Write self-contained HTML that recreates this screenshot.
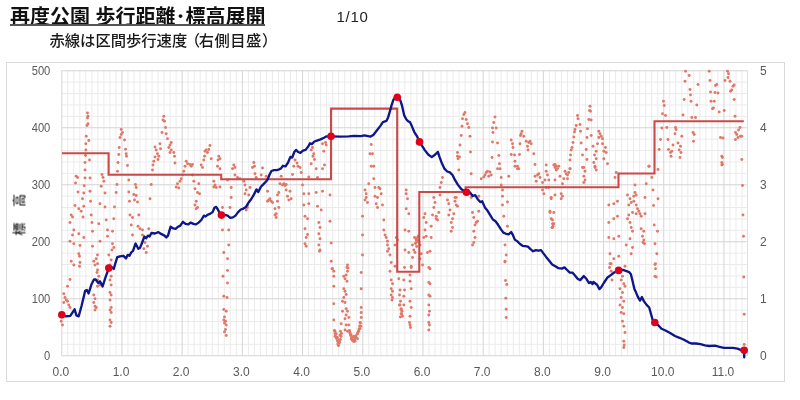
<!DOCTYPE html>
<html><head><meta charset="utf-8"><style>
html,body{margin:0;padding:0;background:#fff;}
body{width:800px;height:400px;overflow:hidden;position:relative;font-family:"Liberation Sans","Noto Sans CJK JP",sans-serif;}
.t{position:absolute;left:10px;top:6.5px;line-height:20px;font-size:20px;font-weight:bold;color:#111;white-space:nowrap;letter-spacing:0px;}
.u{position:absolute;left:9.5px;top:24.4px;width:255px;height:1.3px;background:#555;}
.p{position:absolute;left:336.5px;top:8px;font-size:15px;letter-spacing:0.7px;color:#222;}
.s{position:absolute;left:49.5px;top:27.6px;font-size:15.3px;font-weight:500;color:#1a1a1a;white-space:nowrap;}
.frame{position:absolute;left:6px;top:62px;width:779px;height:320px;border:1px solid #d9d9d9;box-sizing:border-box;}
.yt{position:absolute;left:17.5px;top:213.5px;font-size:13px;letter-spacing:1.4px;font-weight:500;color:#222;transform:translate(-50%,-50%) rotate(-90deg);white-space:nowrap;}
svg{position:absolute;left:0;top:0;filter:blur(0.35px);}
.t,.s,.p,.yt,.u{filter:blur(0.3px);}
</style></head><body>
<div class="frame"></div>
<svg width="800" height="400" viewBox="0 0 800 400"><g><line x1="67.77" y1="70.75" x2="67.77" y2="355.75" stroke="#ebebeb" stroke-width="1"/><line x1="73.79" y1="70.75" x2="73.79" y2="355.75" stroke="#ebebeb" stroke-width="1"/><line x1="79.81" y1="70.75" x2="79.81" y2="355.75" stroke="#ebebeb" stroke-width="1"/><line x1="85.83" y1="70.75" x2="85.83" y2="355.75" stroke="#ebebeb" stroke-width="1"/><line x1="91.85" y1="70.75" x2="91.85" y2="355.75" stroke="#ebebeb" stroke-width="1"/><line x1="97.87" y1="70.75" x2="97.87" y2="355.75" stroke="#ebebeb" stroke-width="1"/><line x1="103.89" y1="70.75" x2="103.89" y2="355.75" stroke="#ebebeb" stroke-width="1"/><line x1="109.91" y1="70.75" x2="109.91" y2="355.75" stroke="#ebebeb" stroke-width="1"/><line x1="115.93" y1="70.75" x2="115.93" y2="355.75" stroke="#ebebeb" stroke-width="1"/><line x1="127.97" y1="70.75" x2="127.97" y2="355.75" stroke="#ebebeb" stroke-width="1"/><line x1="133.99" y1="70.75" x2="133.99" y2="355.75" stroke="#ebebeb" stroke-width="1"/><line x1="140.01" y1="70.75" x2="140.01" y2="355.75" stroke="#ebebeb" stroke-width="1"/><line x1="146.03" y1="70.75" x2="146.03" y2="355.75" stroke="#ebebeb" stroke-width="1"/><line x1="152.05" y1="70.75" x2="152.05" y2="355.75" stroke="#ebebeb" stroke-width="1"/><line x1="158.07" y1="70.75" x2="158.07" y2="355.75" stroke="#ebebeb" stroke-width="1"/><line x1="164.09" y1="70.75" x2="164.09" y2="355.75" stroke="#ebebeb" stroke-width="1"/><line x1="170.11" y1="70.75" x2="170.11" y2="355.75" stroke="#ebebeb" stroke-width="1"/><line x1="176.13" y1="70.75" x2="176.13" y2="355.75" stroke="#ebebeb" stroke-width="1"/><line x1="188.17" y1="70.75" x2="188.17" y2="355.75" stroke="#ebebeb" stroke-width="1"/><line x1="194.19" y1="70.75" x2="194.19" y2="355.75" stroke="#ebebeb" stroke-width="1"/><line x1="200.21" y1="70.75" x2="200.21" y2="355.75" stroke="#ebebeb" stroke-width="1"/><line x1="206.23" y1="70.75" x2="206.23" y2="355.75" stroke="#ebebeb" stroke-width="1"/><line x1="212.25" y1="70.75" x2="212.25" y2="355.75" stroke="#ebebeb" stroke-width="1"/><line x1="218.27" y1="70.75" x2="218.27" y2="355.75" stroke="#ebebeb" stroke-width="1"/><line x1="224.29" y1="70.75" x2="224.29" y2="355.75" stroke="#ebebeb" stroke-width="1"/><line x1="230.31" y1="70.75" x2="230.31" y2="355.75" stroke="#ebebeb" stroke-width="1"/><line x1="236.33" y1="70.75" x2="236.33" y2="355.75" stroke="#ebebeb" stroke-width="1"/><line x1="248.37" y1="70.75" x2="248.37" y2="355.75" stroke="#ebebeb" stroke-width="1"/><line x1="254.39" y1="70.75" x2="254.39" y2="355.75" stroke="#ebebeb" stroke-width="1"/><line x1="260.41" y1="70.75" x2="260.41" y2="355.75" stroke="#ebebeb" stroke-width="1"/><line x1="266.43" y1="70.75" x2="266.43" y2="355.75" stroke="#ebebeb" stroke-width="1"/><line x1="272.45" y1="70.75" x2="272.45" y2="355.75" stroke="#ebebeb" stroke-width="1"/><line x1="278.47" y1="70.75" x2="278.47" y2="355.75" stroke="#ebebeb" stroke-width="1"/><line x1="284.49" y1="70.75" x2="284.49" y2="355.75" stroke="#ebebeb" stroke-width="1"/><line x1="290.51" y1="70.75" x2="290.51" y2="355.75" stroke="#ebebeb" stroke-width="1"/><line x1="296.53" y1="70.75" x2="296.53" y2="355.75" stroke="#ebebeb" stroke-width="1"/><line x1="308.57" y1="70.75" x2="308.57" y2="355.75" stroke="#ebebeb" stroke-width="1"/><line x1="314.59" y1="70.75" x2="314.59" y2="355.75" stroke="#ebebeb" stroke-width="1"/><line x1="320.61" y1="70.75" x2="320.61" y2="355.75" stroke="#ebebeb" stroke-width="1"/><line x1="326.63" y1="70.75" x2="326.63" y2="355.75" stroke="#ebebeb" stroke-width="1"/><line x1="332.65" y1="70.75" x2="332.65" y2="355.75" stroke="#ebebeb" stroke-width="1"/><line x1="338.67" y1="70.75" x2="338.67" y2="355.75" stroke="#ebebeb" stroke-width="1"/><line x1="344.69" y1="70.75" x2="344.69" y2="355.75" stroke="#ebebeb" stroke-width="1"/><line x1="350.71" y1="70.75" x2="350.71" y2="355.75" stroke="#ebebeb" stroke-width="1"/><line x1="356.73" y1="70.75" x2="356.73" y2="355.75" stroke="#ebebeb" stroke-width="1"/><line x1="368.77" y1="70.75" x2="368.77" y2="355.75" stroke="#ebebeb" stroke-width="1"/><line x1="374.79" y1="70.75" x2="374.79" y2="355.75" stroke="#ebebeb" stroke-width="1"/><line x1="380.81" y1="70.75" x2="380.81" y2="355.75" stroke="#ebebeb" stroke-width="1"/><line x1="386.83" y1="70.75" x2="386.83" y2="355.75" stroke="#ebebeb" stroke-width="1"/><line x1="392.85" y1="70.75" x2="392.85" y2="355.75" stroke="#ebebeb" stroke-width="1"/><line x1="398.87" y1="70.75" x2="398.87" y2="355.75" stroke="#ebebeb" stroke-width="1"/><line x1="404.89" y1="70.75" x2="404.89" y2="355.75" stroke="#ebebeb" stroke-width="1"/><line x1="410.91" y1="70.75" x2="410.91" y2="355.75" stroke="#ebebeb" stroke-width="1"/><line x1="416.93" y1="70.75" x2="416.93" y2="355.75" stroke="#ebebeb" stroke-width="1"/><line x1="428.97" y1="70.75" x2="428.97" y2="355.75" stroke="#ebebeb" stroke-width="1"/><line x1="434.99" y1="70.75" x2="434.99" y2="355.75" stroke="#ebebeb" stroke-width="1"/><line x1="441.01" y1="70.75" x2="441.01" y2="355.75" stroke="#ebebeb" stroke-width="1"/><line x1="447.03" y1="70.75" x2="447.03" y2="355.75" stroke="#ebebeb" stroke-width="1"/><line x1="453.05" y1="70.75" x2="453.05" y2="355.75" stroke="#ebebeb" stroke-width="1"/><line x1="459.07" y1="70.75" x2="459.07" y2="355.75" stroke="#ebebeb" stroke-width="1"/><line x1="465.09" y1="70.75" x2="465.09" y2="355.75" stroke="#ebebeb" stroke-width="1"/><line x1="471.11" y1="70.75" x2="471.11" y2="355.75" stroke="#ebebeb" stroke-width="1"/><line x1="477.13" y1="70.75" x2="477.13" y2="355.75" stroke="#ebebeb" stroke-width="1"/><line x1="489.17" y1="70.75" x2="489.17" y2="355.75" stroke="#ebebeb" stroke-width="1"/><line x1="495.19" y1="70.75" x2="495.19" y2="355.75" stroke="#ebebeb" stroke-width="1"/><line x1="501.21" y1="70.75" x2="501.21" y2="355.75" stroke="#ebebeb" stroke-width="1"/><line x1="507.23" y1="70.75" x2="507.23" y2="355.75" stroke="#ebebeb" stroke-width="1"/><line x1="513.25" y1="70.75" x2="513.25" y2="355.75" stroke="#ebebeb" stroke-width="1"/><line x1="519.27" y1="70.75" x2="519.27" y2="355.75" stroke="#ebebeb" stroke-width="1"/><line x1="525.29" y1="70.75" x2="525.29" y2="355.75" stroke="#ebebeb" stroke-width="1"/><line x1="531.31" y1="70.75" x2="531.31" y2="355.75" stroke="#ebebeb" stroke-width="1"/><line x1="537.33" y1="70.75" x2="537.33" y2="355.75" stroke="#ebebeb" stroke-width="1"/><line x1="549.37" y1="70.75" x2="549.37" y2="355.75" stroke="#ebebeb" stroke-width="1"/><line x1="555.39" y1="70.75" x2="555.39" y2="355.75" stroke="#ebebeb" stroke-width="1"/><line x1="561.41" y1="70.75" x2="561.41" y2="355.75" stroke="#ebebeb" stroke-width="1"/><line x1="567.43" y1="70.75" x2="567.43" y2="355.75" stroke="#ebebeb" stroke-width="1"/><line x1="573.45" y1="70.75" x2="573.45" y2="355.75" stroke="#ebebeb" stroke-width="1"/><line x1="579.47" y1="70.75" x2="579.47" y2="355.75" stroke="#ebebeb" stroke-width="1"/><line x1="585.49" y1="70.75" x2="585.49" y2="355.75" stroke="#ebebeb" stroke-width="1"/><line x1="591.51" y1="70.75" x2="591.51" y2="355.75" stroke="#ebebeb" stroke-width="1"/><line x1="597.53" y1="70.75" x2="597.53" y2="355.75" stroke="#ebebeb" stroke-width="1"/><line x1="609.57" y1="70.75" x2="609.57" y2="355.75" stroke="#ebebeb" stroke-width="1"/><line x1="615.59" y1="70.75" x2="615.59" y2="355.75" stroke="#ebebeb" stroke-width="1"/><line x1="621.61" y1="70.75" x2="621.61" y2="355.75" stroke="#ebebeb" stroke-width="1"/><line x1="627.63" y1="70.75" x2="627.63" y2="355.75" stroke="#ebebeb" stroke-width="1"/><line x1="633.65" y1="70.75" x2="633.65" y2="355.75" stroke="#ebebeb" stroke-width="1"/><line x1="639.67" y1="70.75" x2="639.67" y2="355.75" stroke="#ebebeb" stroke-width="1"/><line x1="645.69" y1="70.75" x2="645.69" y2="355.75" stroke="#ebebeb" stroke-width="1"/><line x1="651.71" y1="70.75" x2="651.71" y2="355.75" stroke="#ebebeb" stroke-width="1"/><line x1="657.73" y1="70.75" x2="657.73" y2="355.75" stroke="#ebebeb" stroke-width="1"/><line x1="669.77" y1="70.75" x2="669.77" y2="355.75" stroke="#ebebeb" stroke-width="1"/><line x1="675.79" y1="70.75" x2="675.79" y2="355.75" stroke="#ebebeb" stroke-width="1"/><line x1="681.81" y1="70.75" x2="681.81" y2="355.75" stroke="#ebebeb" stroke-width="1"/><line x1="687.83" y1="70.75" x2="687.83" y2="355.75" stroke="#ebebeb" stroke-width="1"/><line x1="693.85" y1="70.75" x2="693.85" y2="355.75" stroke="#ebebeb" stroke-width="1"/><line x1="699.87" y1="70.75" x2="699.87" y2="355.75" stroke="#ebebeb" stroke-width="1"/><line x1="705.89" y1="70.75" x2="705.89" y2="355.75" stroke="#ebebeb" stroke-width="1"/><line x1="711.91" y1="70.75" x2="711.91" y2="355.75" stroke="#ebebeb" stroke-width="1"/><line x1="717.93" y1="70.75" x2="717.93" y2="355.75" stroke="#ebebeb" stroke-width="1"/><line x1="729.97" y1="70.75" x2="729.97" y2="355.75" stroke="#ebebeb" stroke-width="1"/><line x1="735.99" y1="70.75" x2="735.99" y2="355.75" stroke="#ebebeb" stroke-width="1"/><line x1="742.01" y1="70.75" x2="742.01" y2="355.75" stroke="#ebebeb" stroke-width="1"/><line x1="61.75" y1="344.35" x2="747.5" y2="344.35" stroke="#ebebeb" stroke-width="1"/><line x1="61.75" y1="332.95" x2="747.5" y2="332.95" stroke="#ebebeb" stroke-width="1"/><line x1="61.75" y1="321.55" x2="747.5" y2="321.55" stroke="#ebebeb" stroke-width="1"/><line x1="61.75" y1="310.15" x2="747.5" y2="310.15" stroke="#ebebeb" stroke-width="1"/><line x1="61.75" y1="287.35" x2="747.5" y2="287.35" stroke="#ebebeb" stroke-width="1"/><line x1="61.75" y1="275.95" x2="747.5" y2="275.95" stroke="#ebebeb" stroke-width="1"/><line x1="61.75" y1="264.55" x2="747.5" y2="264.55" stroke="#ebebeb" stroke-width="1"/><line x1="61.75" y1="253.15" x2="747.5" y2="253.15" stroke="#ebebeb" stroke-width="1"/><line x1="61.75" y1="230.35" x2="747.5" y2="230.35" stroke="#ebebeb" stroke-width="1"/><line x1="61.75" y1="218.95" x2="747.5" y2="218.95" stroke="#ebebeb" stroke-width="1"/><line x1="61.75" y1="207.55" x2="747.5" y2="207.55" stroke="#ebebeb" stroke-width="1"/><line x1="61.75" y1="196.15" x2="747.5" y2="196.15" stroke="#ebebeb" stroke-width="1"/><line x1="61.75" y1="173.35" x2="747.5" y2="173.35" stroke="#ebebeb" stroke-width="1"/><line x1="61.75" y1="161.95" x2="747.5" y2="161.95" stroke="#ebebeb" stroke-width="1"/><line x1="61.75" y1="150.55" x2="747.5" y2="150.55" stroke="#ebebeb" stroke-width="1"/><line x1="61.75" y1="139.15" x2="747.5" y2="139.15" stroke="#ebebeb" stroke-width="1"/><line x1="61.75" y1="116.35" x2="747.5" y2="116.35" stroke="#ebebeb" stroke-width="1"/><line x1="61.75" y1="104.95" x2="747.5" y2="104.95" stroke="#ebebeb" stroke-width="1"/><line x1="61.75" y1="93.55" x2="747.5" y2="93.55" stroke="#ebebeb" stroke-width="1"/><line x1="61.75" y1="82.15" x2="747.5" y2="82.15" stroke="#ebebeb" stroke-width="1"/><line x1="61.75" y1="70.75" x2="61.75" y2="355.75" stroke="#d4d4d4" stroke-width="1"/><line x1="121.95" y1="70.75" x2="121.95" y2="355.75" stroke="#d4d4d4" stroke-width="1"/><line x1="182.15" y1="70.75" x2="182.15" y2="355.75" stroke="#d4d4d4" stroke-width="1"/><line x1="242.35" y1="70.75" x2="242.35" y2="355.75" stroke="#d4d4d4" stroke-width="1"/><line x1="302.55" y1="70.75" x2="302.55" y2="355.75" stroke="#d4d4d4" stroke-width="1"/><line x1="362.75" y1="70.75" x2="362.75" y2="355.75" stroke="#d4d4d4" stroke-width="1"/><line x1="422.95" y1="70.75" x2="422.95" y2="355.75" stroke="#d4d4d4" stroke-width="1"/><line x1="483.15" y1="70.75" x2="483.15" y2="355.75" stroke="#d4d4d4" stroke-width="1"/><line x1="543.35" y1="70.75" x2="543.35" y2="355.75" stroke="#d4d4d4" stroke-width="1"/><line x1="603.55" y1="70.75" x2="603.55" y2="355.75" stroke="#d4d4d4" stroke-width="1"/><line x1="663.75" y1="70.75" x2="663.75" y2="355.75" stroke="#d4d4d4" stroke-width="1"/><line x1="723.95" y1="70.75" x2="723.95" y2="355.75" stroke="#d4d4d4" stroke-width="1"/><line x1="61.75" y1="355.75" x2="747.5" y2="355.75" stroke="#d4d4d4" stroke-width="1"/><line x1="61.75" y1="298.75" x2="747.5" y2="298.75" stroke="#d4d4d4" stroke-width="1"/><line x1="61.75" y1="241.75" x2="747.5" y2="241.75" stroke="#d4d4d4" stroke-width="1"/><line x1="61.75" y1="184.75" x2="747.5" y2="184.75" stroke="#d4d4d4" stroke-width="1"/><line x1="61.75" y1="127.75" x2="747.5" y2="127.75" stroke="#d4d4d4" stroke-width="1"/><line x1="61.75" y1="70.75" x2="747.5" y2="70.75" stroke="#d4d4d4" stroke-width="1"/><line x1="747.50" y1="70.75" x2="747.50" y2="355.75" stroke="#e0e0e0" stroke-width="1"/></g><g fill="#e07868"><circle cx="87.5" cy="113.0" r="1.45"/><circle cx="88.0" cy="116.2" r="1.45"/><circle cx="87.5" cy="118.0" r="1.45"/><circle cx="88.0" cy="123.8" r="1.45"/><circle cx="87.0" cy="125.5" r="1.45"/><circle cx="86.2" cy="136.2" r="1.45"/><circle cx="88.8" cy="140.5" r="1.45"/><circle cx="85.8" cy="143.8" r="1.45"/><circle cx="85.8" cy="150.0" r="1.45"/><circle cx="85.5" cy="155.5" r="1.45"/><circle cx="89.5" cy="160.0" r="1.45"/><circle cx="85.0" cy="162.5" r="1.45"/><circle cx="85.0" cy="170.0" r="1.45"/><circle cx="85.0" cy="178.0" r="1.45"/><circle cx="90.0" cy="178.0" r="1.45"/><circle cx="84.2" cy="185.8" r="1.45"/><circle cx="76.2" cy="176.2" r="1.45"/><circle cx="77.5" cy="177.5" r="1.45"/><circle cx="75.5" cy="183.0" r="1.45"/><circle cx="102.0" cy="174.5" r="1.45"/><circle cx="103.0" cy="177.5" r="1.45"/><circle cx="103.8" cy="181.2" r="1.45"/><circle cx="101.2" cy="186.2" r="1.45"/><circle cx="121.2" cy="129.5" r="1.45"/><circle cx="122.5" cy="132.5" r="1.45"/><circle cx="121.2" cy="134.5" r="1.45"/><circle cx="120.0" cy="137.5" r="1.45"/><circle cx="124.5" cy="140.0" r="1.45"/><circle cx="119.2" cy="147.5" r="1.45"/><circle cx="125.5" cy="149.2" r="1.45"/><circle cx="126.2" cy="153.8" r="1.45"/><circle cx="126.5" cy="156.2" r="1.45"/><circle cx="118.8" cy="154.5" r="1.45"/><circle cx="118.0" cy="162.5" r="1.45"/><circle cx="127.5" cy="165.5" r="1.45"/><circle cx="117.5" cy="171.2" r="1.45"/><circle cx="128.8" cy="180.0" r="1.45"/><circle cx="117.0" cy="184.5" r="1.45"/><circle cx="135.5" cy="184.5" r="1.45"/><circle cx="136.2" cy="187.5" r="1.45"/><circle cx="155.0" cy="147.0" r="1.45"/><circle cx="156.2" cy="150.0" r="1.45"/><circle cx="157.5" cy="153.8" r="1.45"/><circle cx="155.0" cy="157.0" r="1.45"/><circle cx="153.8" cy="161.2" r="1.45"/><circle cx="153.0" cy="165.0" r="1.45"/><circle cx="152.5" cy="170.0" r="1.45"/><circle cx="151.2" cy="184.5" r="1.45"/><circle cx="158.8" cy="156.2" r="1.45"/><circle cx="158.0" cy="159.5" r="1.45"/><circle cx="78.0" cy="192.0" r="1.45"/><circle cx="83.8" cy="193.0" r="1.45"/><circle cx="90.0" cy="191.2" r="1.45"/><circle cx="105.0" cy="193.0" r="1.45"/><circle cx="116.2" cy="192.5" r="1.45"/><circle cx="128.8" cy="192.0" r="1.45"/><circle cx="133.8" cy="194.5" r="1.45"/><circle cx="136.2" cy="195.5" r="1.45"/><circle cx="82.5" cy="198.8" r="1.45"/><circle cx="90.5" cy="201.2" r="1.45"/><circle cx="75.0" cy="205.5" r="1.45"/><circle cx="78.8" cy="208.8" r="1.45"/><circle cx="83.8" cy="206.2" r="1.45"/><circle cx="100.0" cy="203.8" r="1.45"/><circle cx="105.0" cy="207.0" r="1.45"/><circle cx="114.5" cy="207.0" r="1.45"/><circle cx="129.5" cy="201.2" r="1.45"/><circle cx="134.5" cy="200.0" r="1.45"/><circle cx="137.5" cy="202.0" r="1.45"/><circle cx="150.0" cy="198.8" r="1.45"/><circle cx="71.2" cy="215.0" r="1.45"/><circle cx="72.5" cy="217.0" r="1.45"/><circle cx="70.0" cy="222.5" r="1.45"/><circle cx="81.2" cy="211.2" r="1.45"/><circle cx="83.0" cy="217.0" r="1.45"/><circle cx="91.2" cy="215.0" r="1.45"/><circle cx="92.0" cy="222.5" r="1.45"/><circle cx="98.8" cy="223.8" r="1.45"/><circle cx="106.2" cy="220.0" r="1.45"/><circle cx="113.8" cy="218.8" r="1.45"/><circle cx="130.0" cy="215.0" r="1.45"/><circle cx="132.5" cy="217.5" r="1.45"/><circle cx="138.8" cy="215.0" r="1.45"/><circle cx="131.2" cy="225.0" r="1.45"/><circle cx="138.0" cy="226.2" r="1.45"/><circle cx="140.0" cy="228.8" r="1.45"/><circle cx="142.5" cy="230.0" r="1.45"/><circle cx="148.8" cy="228.8" r="1.45"/><circle cx="73.8" cy="230.0" r="1.45"/><circle cx="72.5" cy="235.0" r="1.45"/><circle cx="78.8" cy="233.8" r="1.45"/><circle cx="83.8" cy="237.5" r="1.45"/><circle cx="92.5" cy="231.2" r="1.45"/><circle cx="107.5" cy="230.0" r="1.45"/><circle cx="107.5" cy="236.2" r="1.45"/><circle cx="112.5" cy="231.2" r="1.45"/><circle cx="132.5" cy="235.0" r="1.45"/><circle cx="142.5" cy="235.0" r="1.45"/><circle cx="70.0" cy="241.2" r="1.45"/><circle cx="73.8" cy="243.8" r="1.45"/><circle cx="80.0" cy="245.5" r="1.45"/><circle cx="92.5" cy="246.2" r="1.45"/><circle cx="100.0" cy="241.2" r="1.45"/><circle cx="112.5" cy="243.8" r="1.45"/><circle cx="113.8" cy="247.5" r="1.45"/><circle cx="112.0" cy="250.0" r="1.45"/><circle cx="108.8" cy="255.0" r="1.45"/><circle cx="145.0" cy="242.5" r="1.45"/><circle cx="147.5" cy="246.2" r="1.45"/><circle cx="143.8" cy="248.8" r="1.45"/><circle cx="146.2" cy="252.5" r="1.45"/><circle cx="78.8" cy="253.8" r="1.45"/><circle cx="79.5" cy="256.2" r="1.45"/><circle cx="71.2" cy="261.2" r="1.45"/><circle cx="73.8" cy="265.0" r="1.45"/><circle cx="80.0" cy="262.5" r="1.45"/><circle cx="79.5" cy="266.2" r="1.45"/><circle cx="97.5" cy="255.0" r="1.45"/><circle cx="96.2" cy="258.8" r="1.45"/><circle cx="93.8" cy="261.2" r="1.45"/><circle cx="97.5" cy="263.8" r="1.45"/><circle cx="95.0" cy="265.0" r="1.45"/><circle cx="111.2" cy="260.0" r="1.45"/><circle cx="110.0" cy="265.0" r="1.45"/><circle cx="70.0" cy="279.5" r="1.45"/><circle cx="67.5" cy="286.2" r="1.45"/><circle cx="97.5" cy="270.0" r="1.45"/><circle cx="97.0" cy="272.5" r="1.45"/><circle cx="98.8" cy="276.2" r="1.45"/><circle cx="97.5" cy="280.0" r="1.45"/><circle cx="111.2" cy="276.2" r="1.45"/><circle cx="110.0" cy="280.0" r="1.45"/><circle cx="111.2" cy="285.0" r="1.45"/><circle cx="97.5" cy="286.2" r="1.45"/><circle cx="100.0" cy="285.0" r="1.45"/><circle cx="63.8" cy="293.8" r="1.45"/><circle cx="65.0" cy="297.5" r="1.45"/><circle cx="66.2" cy="300.0" r="1.45"/><circle cx="67.5" cy="301.2" r="1.45"/><circle cx="63.8" cy="302.5" r="1.45"/><circle cx="68.8" cy="305.0" r="1.45"/><circle cx="70.0" cy="307.5" r="1.45"/><circle cx="62.5" cy="325.0" r="1.45"/><circle cx="61.2" cy="321.2" r="1.45"/><circle cx="93.8" cy="295.0" r="1.45"/><circle cx="95.0" cy="298.8" r="1.45"/><circle cx="93.8" cy="302.5" r="1.45"/><circle cx="95.0" cy="306.2" r="1.45"/><circle cx="95.0" cy="310.0" r="1.45"/><circle cx="96.2" cy="307.5" r="1.45"/><circle cx="110.0" cy="292.5" r="1.45"/><circle cx="111.2" cy="295.0" r="1.45"/><circle cx="110.0" cy="300.0" r="1.45"/><circle cx="111.2" cy="307.5" r="1.45"/><circle cx="110.0" cy="310.0" r="1.45"/><circle cx="111.2" cy="312.5" r="1.45"/><circle cx="110.0" cy="320.0" r="1.45"/><circle cx="111.2" cy="322.5" r="1.45"/><circle cx="110.0" cy="326.2" r="1.45"/><circle cx="163.8" cy="116.2" r="1.45"/><circle cx="163.0" cy="120.0" r="1.45"/><circle cx="164.5" cy="121.2" r="1.45"/><circle cx="165.5" cy="127.5" r="1.45"/><circle cx="162.0" cy="132.5" r="1.45"/><circle cx="166.2" cy="133.8" r="1.45"/><circle cx="167.5" cy="138.8" r="1.45"/><circle cx="171.2" cy="142.5" r="1.45"/><circle cx="170.0" cy="145.0" r="1.45"/><circle cx="168.8" cy="147.5" r="1.45"/><circle cx="171.2" cy="150.0" r="1.45"/><circle cx="170.0" cy="152.5" r="1.45"/><circle cx="173.8" cy="152.5" r="1.45"/><circle cx="174.5" cy="156.2" r="1.45"/><circle cx="175.0" cy="163.0" r="1.45"/><circle cx="160.0" cy="143.8" r="1.45"/><circle cx="160.5" cy="148.8" r="1.45"/><circle cx="186.2" cy="161.2" r="1.45"/><circle cx="187.5" cy="163.8" r="1.45"/><circle cx="190.0" cy="164.5" r="1.45"/><circle cx="191.2" cy="166.2" r="1.45"/><circle cx="185.0" cy="166.2" r="1.45"/><circle cx="192.5" cy="164.5" r="1.45"/><circle cx="205.0" cy="151.2" r="1.45"/><circle cx="206.2" cy="150.0" r="1.45"/><circle cx="208.8" cy="149.5" r="1.45"/><circle cx="210.0" cy="145.5" r="1.45"/><circle cx="207.5" cy="152.5" r="1.45"/><circle cx="211.2" cy="158.8" r="1.45"/><circle cx="204.5" cy="156.2" r="1.45"/><circle cx="203.8" cy="160.0" r="1.45"/><circle cx="201.2" cy="165.0" r="1.45"/><circle cx="202.5" cy="167.5" r="1.45"/><circle cx="218.8" cy="156.2" r="1.45"/><circle cx="218.0" cy="160.0" r="1.45"/><circle cx="220.0" cy="158.8" r="1.45"/><circle cx="217.5" cy="166.2" r="1.45"/><circle cx="220.0" cy="168.8" r="1.45"/><circle cx="233.8" cy="165.0" r="1.45"/><circle cx="235.0" cy="167.5" r="1.45"/><circle cx="232.5" cy="168.8" r="1.45"/><circle cx="253.8" cy="162.5" r="1.45"/><circle cx="254.5" cy="166.2" r="1.45"/><circle cx="252.5" cy="167.5" r="1.45"/><circle cx="183.8" cy="171.2" r="1.45"/><circle cx="182.5" cy="175.0" r="1.45"/><circle cx="181.2" cy="178.8" r="1.45"/><circle cx="180.0" cy="181.2" r="1.45"/><circle cx="177.5" cy="183.8" r="1.45"/><circle cx="176.2" cy="187.0" r="1.45"/><circle cx="178.8" cy="188.0" r="1.45"/><circle cx="193.8" cy="181.2" r="1.45"/><circle cx="195.0" cy="188.8" r="1.45"/><circle cx="198.8" cy="183.8" r="1.45"/><circle cx="197.5" cy="192.5" r="1.45"/><circle cx="199.5" cy="193.8" r="1.45"/><circle cx="196.2" cy="201.2" r="1.45"/><circle cx="195.0" cy="205.0" r="1.45"/><circle cx="197.5" cy="207.5" r="1.45"/><circle cx="196.2" cy="208.8" r="1.45"/><circle cx="213.8" cy="181.2" r="1.45"/><circle cx="215.0" cy="185.0" r="1.45"/><circle cx="213.8" cy="187.0" r="1.45"/><circle cx="216.2" cy="187.5" r="1.45"/><circle cx="220.0" cy="187.0" r="1.45"/><circle cx="222.5" cy="207.5" r="1.45"/><circle cx="222.5" cy="230.0" r="1.45"/><circle cx="228.8" cy="230.0" r="1.45"/><circle cx="230.0" cy="207.5" r="1.45"/><circle cx="231.2" cy="197.5" r="1.45"/><circle cx="231.2" cy="187.5" r="1.45"/><circle cx="227.5" cy="180.0" r="1.45"/><circle cx="228.8" cy="245.0" r="1.45"/><circle cx="223.8" cy="252.5" r="1.45"/><circle cx="227.5" cy="258.8" r="1.45"/><circle cx="235.0" cy="175.0" r="1.45"/><circle cx="237.5" cy="177.5" r="1.45"/><circle cx="240.0" cy="178.8" r="1.45"/><circle cx="243.8" cy="181.2" r="1.45"/><circle cx="245.0" cy="185.0" r="1.45"/><circle cx="246.2" cy="190.0" r="1.45"/><circle cx="245.0" cy="193.8" r="1.45"/><circle cx="248.8" cy="195.0" r="1.45"/><circle cx="250.0" cy="187.5" r="1.45"/><circle cx="255.0" cy="173.8" r="1.45"/><circle cx="256.2" cy="177.5" r="1.45"/><circle cx="247.5" cy="207.5" r="1.45"/><circle cx="246.2" cy="210.0" r="1.45"/><circle cx="247.5" cy="205.0" r="1.45"/><circle cx="192.5" cy="175.0" r="1.45"/><circle cx="227.5" cy="270.5" r="1.45"/><circle cx="223.0" cy="276.2" r="1.45"/><circle cx="227.5" cy="283.0" r="1.45"/><circle cx="223.8" cy="296.2" r="1.45"/><circle cx="227.0" cy="297.5" r="1.45"/><circle cx="223.8" cy="309.5" r="1.45"/><circle cx="226.2" cy="311.2" r="1.45"/><circle cx="224.5" cy="317.0" r="1.45"/><circle cx="223.8" cy="320.0" r="1.45"/><circle cx="225.5" cy="321.2" r="1.45"/><circle cx="224.5" cy="323.0" r="1.45"/><circle cx="226.2" cy="325.0" r="1.45"/><circle cx="225.5" cy="329.5" r="1.45"/><circle cx="224.5" cy="332.0" r="1.45"/><circle cx="226.2" cy="335.5" r="1.45"/><circle cx="262.5" cy="168.0" r="1.45"/><circle cx="295.0" cy="160.0" r="1.45"/><circle cx="297.0" cy="163.0" r="1.45"/><circle cx="298.0" cy="166.2" r="1.45"/><circle cx="293.8" cy="166.2" r="1.45"/><circle cx="300.0" cy="167.5" r="1.45"/><circle cx="312.5" cy="147.5" r="1.45"/><circle cx="311.2" cy="150.0" r="1.45"/><circle cx="313.8" cy="153.8" r="1.45"/><circle cx="313.0" cy="156.2" r="1.45"/><circle cx="314.5" cy="159.5" r="1.45"/><circle cx="311.2" cy="163.8" r="1.45"/><circle cx="316.2" cy="168.8" r="1.45"/><circle cx="322.5" cy="143.8" r="1.45"/><circle cx="325.5" cy="142.5" r="1.45"/><circle cx="326.2" cy="145.0" r="1.45"/><circle cx="323.8" cy="151.2" r="1.45"/><circle cx="324.5" cy="165.0" r="1.45"/><circle cx="322.5" cy="168.8" r="1.45"/><circle cx="261.2" cy="175.0" r="1.45"/><circle cx="266.2" cy="176.2" r="1.45"/><circle cx="281.2" cy="176.2" r="1.45"/><circle cx="292.5" cy="174.5" r="1.45"/><circle cx="301.2" cy="172.5" r="1.45"/><circle cx="317.5" cy="177.5" r="1.45"/><circle cx="308.8" cy="177.0" r="1.45"/><circle cx="280.0" cy="183.8" r="1.45"/><circle cx="282.5" cy="185.0" r="1.45"/><circle cx="283.8" cy="183.8" r="1.45"/><circle cx="285.0" cy="185.5" r="1.45"/><circle cx="286.2" cy="184.5" r="1.45"/><circle cx="278.8" cy="192.5" r="1.45"/><circle cx="267.5" cy="191.2" r="1.45"/><circle cx="277.5" cy="195.0" r="1.45"/><circle cx="286.2" cy="190.0" r="1.45"/><circle cx="290.0" cy="191.2" r="1.45"/><circle cx="287.5" cy="196.2" r="1.45"/><circle cx="288.8" cy="200.0" r="1.45"/><circle cx="291.2" cy="198.8" r="1.45"/><circle cx="270.0" cy="198.8" r="1.45"/><circle cx="268.8" cy="200.0" r="1.45"/><circle cx="271.2" cy="201.2" r="1.45"/><circle cx="272.5" cy="202.5" r="1.45"/><circle cx="267.5" cy="201.2" r="1.45"/><circle cx="277.5" cy="201.2" r="1.45"/><circle cx="278.8" cy="207.5" r="1.45"/><circle cx="275.0" cy="208.8" r="1.45"/><circle cx="276.2" cy="213.8" r="1.45"/><circle cx="275.0" cy="215.0" r="1.45"/><circle cx="276.2" cy="217.5" r="1.45"/><circle cx="303.8" cy="193.8" r="1.45"/><circle cx="308.8" cy="193.8" r="1.45"/><circle cx="316.2" cy="192.5" r="1.45"/><circle cx="322.5" cy="191.2" r="1.45"/><circle cx="330.0" cy="195.0" r="1.45"/><circle cx="302.5" cy="185.0" r="1.45"/><circle cx="303.8" cy="205.0" r="1.45"/><circle cx="308.8" cy="203.8" r="1.45"/><circle cx="317.5" cy="206.2" r="1.45"/><circle cx="321.2" cy="210.0" r="1.45"/><circle cx="305.0" cy="216.2" r="1.45"/><circle cx="307.5" cy="218.8" r="1.45"/><circle cx="318.8" cy="222.5" r="1.45"/><circle cx="320.0" cy="227.5" r="1.45"/><circle cx="330.0" cy="221.2" r="1.45"/><circle cx="305.0" cy="228.8" r="1.45"/><circle cx="307.5" cy="234.5" r="1.45"/><circle cx="306.2" cy="237.5" r="1.45"/><circle cx="318.8" cy="233.8" r="1.45"/><circle cx="320.0" cy="238.8" r="1.45"/><circle cx="318.8" cy="245.0" r="1.45"/><circle cx="320.0" cy="250.0" r="1.45"/><circle cx="331.2" cy="243.0" r="1.45"/><circle cx="305.0" cy="243.8" r="1.45"/><circle cx="306.2" cy="246.2" r="1.45"/><circle cx="319.5" cy="251.2" r="1.45"/><circle cx="331.2" cy="261.2" r="1.45"/><circle cx="332.5" cy="268.8" r="1.45"/><circle cx="347.5" cy="265.0" r="1.45"/><circle cx="348.0" cy="268.0" r="1.45"/><circle cx="332.0" cy="268.8" r="1.45"/><circle cx="333.8" cy="271.2" r="1.45"/><circle cx="333.8" cy="276.2" r="1.45"/><circle cx="333.8" cy="286.2" r="1.45"/><circle cx="333.8" cy="303.8" r="1.45"/><circle cx="333.8" cy="320.0" r="1.45"/><circle cx="335.0" cy="331.2" r="1.45"/><circle cx="336.2" cy="333.8" r="1.45"/><circle cx="335.0" cy="336.2" r="1.45"/><circle cx="337.5" cy="337.5" r="1.45"/><circle cx="338.8" cy="340.0" r="1.45"/><circle cx="339.5" cy="342.5" r="1.45"/><circle cx="338.0" cy="345.0" r="1.45"/><circle cx="340.0" cy="335.0" r="1.45"/><circle cx="340.5" cy="331.2" r="1.45"/><circle cx="347.0" cy="267.5" r="1.45"/><circle cx="347.5" cy="271.2" r="1.45"/><circle cx="346.2" cy="275.0" r="1.45"/><circle cx="343.8" cy="276.2" r="1.45"/><circle cx="345.0" cy="278.8" r="1.45"/><circle cx="347.0" cy="281.2" r="1.45"/><circle cx="343.8" cy="288.8" r="1.45"/><circle cx="345.0" cy="291.2" r="1.45"/><circle cx="346.2" cy="294.5" r="1.45"/><circle cx="343.8" cy="297.5" r="1.45"/><circle cx="342.5" cy="301.2" r="1.45"/><circle cx="345.0" cy="302.5" r="1.45"/><circle cx="342.5" cy="311.2" r="1.45"/><circle cx="346.2" cy="308.8" r="1.45"/><circle cx="347.5" cy="311.2" r="1.45"/><circle cx="346.2" cy="315.0" r="1.45"/><circle cx="348.8" cy="317.5" r="1.45"/><circle cx="345.0" cy="318.8" r="1.45"/><circle cx="346.2" cy="325.0" r="1.45"/><circle cx="348.8" cy="325.0" r="1.45"/><circle cx="341.2" cy="323.8" r="1.45"/><circle cx="345.0" cy="330.0" r="1.45"/><circle cx="347.5" cy="331.2" r="1.45"/><circle cx="350.0" cy="332.5" r="1.45"/><circle cx="351.2" cy="335.0" r="1.45"/><circle cx="352.5" cy="337.5" r="1.45"/><circle cx="353.8" cy="340.0" r="1.45"/><circle cx="355.0" cy="341.2" r="1.45"/><circle cx="353.8" cy="336.2" r="1.45"/><circle cx="356.2" cy="337.5" r="1.45"/><circle cx="357.5" cy="333.8" r="1.45"/><circle cx="358.8" cy="331.2" r="1.45"/><circle cx="357.5" cy="338.8" r="1.45"/><circle cx="351.2" cy="338.8" r="1.45"/><circle cx="362.5" cy="216.2" r="1.45"/><circle cx="362.5" cy="235.0" r="1.45"/><circle cx="362.5" cy="255.0" r="1.45"/><circle cx="365.0" cy="190.0" r="1.45"/><circle cx="366.2" cy="193.8" r="1.45"/><circle cx="366.2" cy="197.5" r="1.45"/><circle cx="365.0" cy="200.0" r="1.45"/><circle cx="367.5" cy="202.5" r="1.45"/><circle cx="368.8" cy="183.8" r="1.45"/><circle cx="373.8" cy="178.8" r="1.45"/><circle cx="375.0" cy="187.5" r="1.45"/><circle cx="378.8" cy="187.5" r="1.45"/><circle cx="380.0" cy="188.8" r="1.45"/><circle cx="381.2" cy="193.8" r="1.45"/><circle cx="375.0" cy="196.2" r="1.45"/><circle cx="377.5" cy="197.5" r="1.45"/><circle cx="376.2" cy="203.8" r="1.45"/><circle cx="377.5" cy="207.5" r="1.45"/><circle cx="382.5" cy="205.0" r="1.45"/><circle cx="383.8" cy="220.0" r="1.45"/><circle cx="383.8" cy="230.0" r="1.45"/><circle cx="385.0" cy="235.0" r="1.45"/><circle cx="386.2" cy="237.5" r="1.45"/><circle cx="387.5" cy="241.2" r="1.45"/><circle cx="387.5" cy="245.0" r="1.45"/><circle cx="388.8" cy="248.8" r="1.45"/><circle cx="387.5" cy="251.2" r="1.45"/><circle cx="390.0" cy="255.0" r="1.45"/><circle cx="391.2" cy="262.5" r="1.45"/><circle cx="395.0" cy="266.2" r="1.45"/><circle cx="396.2" cy="237.5" r="1.45"/><circle cx="397.5" cy="240.0" r="1.45"/><circle cx="395.0" cy="245.0" r="1.45"/><circle cx="406.2" cy="190.0" r="1.45"/><circle cx="406.2" cy="193.8" r="1.45"/><circle cx="407.5" cy="198.8" r="1.45"/><circle cx="406.2" cy="208.8" r="1.45"/><circle cx="408.8" cy="213.8" r="1.45"/><circle cx="405.0" cy="230.0" r="1.45"/><circle cx="408.8" cy="231.2" r="1.45"/><circle cx="405.0" cy="250.0" r="1.45"/><circle cx="408.8" cy="252.5" r="1.45"/><circle cx="412.5" cy="245.0" r="1.45"/><circle cx="413.8" cy="250.0" r="1.45"/><circle cx="412.5" cy="257.5" r="1.45"/><circle cx="411.2" cy="266.2" r="1.45"/><circle cx="415.0" cy="252.5" r="1.45"/><circle cx="416.2" cy="240.0" r="1.45"/><circle cx="417.5" cy="237.5" r="1.45"/><circle cx="416.2" cy="242.5" r="1.45"/><circle cx="418.8" cy="241.2" r="1.45"/><circle cx="420.0" cy="245.0" r="1.45"/><circle cx="421.2" cy="253.8" r="1.45"/><circle cx="420.0" cy="258.8" r="1.45"/><circle cx="422.5" cy="265.0" r="1.45"/><circle cx="423.8" cy="217.5" r="1.45"/><circle cx="425.0" cy="213.8" r="1.45"/><circle cx="426.2" cy="222.5" r="1.45"/><circle cx="425.0" cy="230.0" r="1.45"/><circle cx="423.8" cy="237.5" r="1.45"/><circle cx="426.2" cy="236.2" r="1.45"/><circle cx="427.5" cy="252.5" r="1.45"/><circle cx="430.0" cy="251.2" r="1.45"/><circle cx="431.2" cy="237.5" r="1.45"/><circle cx="431.2" cy="226.2" r="1.45"/><circle cx="432.5" cy="215.0" r="1.45"/><circle cx="433.8" cy="207.5" r="1.45"/><circle cx="435.0" cy="202.5" r="1.45"/><circle cx="433.8" cy="197.5" r="1.45"/><circle cx="436.2" cy="218.8" r="1.45"/><circle cx="437.5" cy="220.0" r="1.45"/><circle cx="438.8" cy="212.5" r="1.45"/><circle cx="436.2" cy="216.2" r="1.45"/><circle cx="440.0" cy="187.5" r="1.45"/><circle cx="441.2" cy="182.5" r="1.45"/><circle cx="442.5" cy="177.5" r="1.45"/><circle cx="440.0" cy="195.0" r="1.45"/><circle cx="447.5" cy="200.0" r="1.45"/><circle cx="448.8" cy="203.8" r="1.45"/><circle cx="450.0" cy="210.0" r="1.45"/><circle cx="448.8" cy="215.0" r="1.45"/><circle cx="453.8" cy="213.8" r="1.45"/><circle cx="452.5" cy="218.8" r="1.45"/><circle cx="451.2" cy="222.5" r="1.45"/><circle cx="452.5" cy="227.5" r="1.45"/><circle cx="451.2" cy="231.2" r="1.45"/><circle cx="455.0" cy="201.2" r="1.45"/><circle cx="456.2" cy="197.5" r="1.45"/><circle cx="457.5" cy="206.2" r="1.45"/><circle cx="371.2" cy="144.5" r="1.45"/><circle cx="370.0" cy="153.8" r="1.45"/><circle cx="372.5" cy="153.8" r="1.45"/><circle cx="371.2" cy="166.2" r="1.45"/><circle cx="373.8" cy="166.2" r="1.45"/><circle cx="457.5" cy="152.5" r="1.45"/><circle cx="457.5" cy="156.2" r="1.45"/><circle cx="458.0" cy="158.8" r="1.45"/><circle cx="361.2" cy="272.5" r="1.45"/><circle cx="361.2" cy="288.8" r="1.45"/><circle cx="361.2" cy="307.5" r="1.45"/><circle cx="361.2" cy="312.5" r="1.45"/><circle cx="361.2" cy="317.5" r="1.45"/><circle cx="360.0" cy="322.5" r="1.45"/><circle cx="360.8" cy="326.2" r="1.45"/><circle cx="360.0" cy="328.8" r="1.45"/><circle cx="390.0" cy="271.2" r="1.45"/><circle cx="391.2" cy="280.0" r="1.45"/><circle cx="392.5" cy="283.8" r="1.45"/><circle cx="391.2" cy="288.8" r="1.45"/><circle cx="392.5" cy="291.2" r="1.45"/><circle cx="391.2" cy="295.0" r="1.45"/><circle cx="392.5" cy="297.5" r="1.45"/><circle cx="392.0" cy="300.0" r="1.45"/><circle cx="398.8" cy="278.8" r="1.45"/><circle cx="400.0" cy="290.0" r="1.45"/><circle cx="399.5" cy="295.0" r="1.45"/><circle cx="400.5" cy="301.2" r="1.45"/><circle cx="400.0" cy="305.0" r="1.45"/><circle cx="401.2" cy="308.8" r="1.45"/><circle cx="402.0" cy="311.2" r="1.45"/><circle cx="401.2" cy="313.8" r="1.45"/><circle cx="402.5" cy="316.2" r="1.45"/><circle cx="403.8" cy="305.0" r="1.45"/><circle cx="403.8" cy="296.2" r="1.45"/><circle cx="404.5" cy="290.0" r="1.45"/><circle cx="403.8" cy="280.0" r="1.45"/><circle cx="404.5" cy="267.5" r="1.45"/><circle cx="410.0" cy="275.0" r="1.45"/><circle cx="410.0" cy="281.2" r="1.45"/><circle cx="411.2" cy="288.8" r="1.45"/><circle cx="410.0" cy="301.2" r="1.45"/><circle cx="411.2" cy="307.5" r="1.45"/><circle cx="410.0" cy="316.2" r="1.45"/><circle cx="409.5" cy="322.5" r="1.45"/><circle cx="410.0" cy="325.0" r="1.45"/><circle cx="410.5" cy="327.5" r="1.45"/><circle cx="411.2" cy="267.5" r="1.45"/><circle cx="428.8" cy="267.5" r="1.45"/><circle cx="430.0" cy="268.8" r="1.45"/><circle cx="428.8" cy="282.5" r="1.45"/><circle cx="430.0" cy="283.8" r="1.45"/><circle cx="428.8" cy="295.0" r="1.45"/><circle cx="430.0" cy="296.2" r="1.45"/><circle cx="428.8" cy="305.0" r="1.45"/><circle cx="429.5" cy="311.2" r="1.45"/><circle cx="428.8" cy="315.0" r="1.45"/><circle cx="428.8" cy="322.5" r="1.45"/><circle cx="429.5" cy="325.0" r="1.45"/><circle cx="428.8" cy="330.0" r="1.45"/><circle cx="465.0" cy="112.5" r="1.45"/><circle cx="463.8" cy="114.5" r="1.45"/><circle cx="462.5" cy="118.8" r="1.45"/><circle cx="466.2" cy="119.5" r="1.45"/><circle cx="467.5" cy="123.8" r="1.45"/><circle cx="468.8" cy="127.5" r="1.45"/><circle cx="462.0" cy="126.2" r="1.45"/><circle cx="470.0" cy="136.2" r="1.45"/><circle cx="461.2" cy="135.5" r="1.45"/><circle cx="460.0" cy="145.0" r="1.45"/><circle cx="470.5" cy="152.0" r="1.45"/><circle cx="459.5" cy="157.0" r="1.45"/><circle cx="495.0" cy="117.0" r="1.45"/><circle cx="493.8" cy="122.5" r="1.45"/><circle cx="492.5" cy="128.0" r="1.45"/><circle cx="496.2" cy="128.0" r="1.45"/><circle cx="493.0" cy="132.5" r="1.45"/><circle cx="492.5" cy="142.0" r="1.45"/><circle cx="497.5" cy="143.0" r="1.45"/><circle cx="492.0" cy="157.5" r="1.45"/><circle cx="498.8" cy="155.5" r="1.45"/><circle cx="499.5" cy="163.8" r="1.45"/><circle cx="497.5" cy="168.8" r="1.45"/><circle cx="522.0" cy="131.2" r="1.45"/><circle cx="521.2" cy="133.8" r="1.45"/><circle cx="520.5" cy="135.5" r="1.45"/><circle cx="523.8" cy="136.2" r="1.45"/><circle cx="526.2" cy="141.2" r="1.45"/><circle cx="528.8" cy="142.5" r="1.45"/><circle cx="530.0" cy="141.2" r="1.45"/><circle cx="531.2" cy="143.8" r="1.45"/><circle cx="527.5" cy="146.2" r="1.45"/><circle cx="528.0" cy="150.0" r="1.45"/><circle cx="520.0" cy="143.8" r="1.45"/><circle cx="533.8" cy="153.8" r="1.45"/><circle cx="535.0" cy="164.5" r="1.45"/><circle cx="511.2" cy="140.0" r="1.45"/><circle cx="512.5" cy="143.8" r="1.45"/><circle cx="513.0" cy="147.5" r="1.45"/><circle cx="511.2" cy="154.5" r="1.45"/><circle cx="514.5" cy="155.0" r="1.45"/><circle cx="519.5" cy="154.5" r="1.45"/><circle cx="515.0" cy="161.2" r="1.45"/><circle cx="517.5" cy="166.2" r="1.45"/><circle cx="518.8" cy="168.8" r="1.45"/><circle cx="546.2" cy="165.0" r="1.45"/><circle cx="553.8" cy="165.0" r="1.45"/><circle cx="458.8" cy="170.0" r="1.45"/><circle cx="471.2" cy="173.8" r="1.45"/><circle cx="481.2" cy="178.8" r="1.45"/><circle cx="483.8" cy="177.0" r="1.45"/><circle cx="485.0" cy="175.0" r="1.45"/><circle cx="486.2" cy="172.5" r="1.45"/><circle cx="487.5" cy="171.2" r="1.45"/><circle cx="490.0" cy="172.0" r="1.45"/><circle cx="491.2" cy="175.0" r="1.45"/><circle cx="488.8" cy="176.2" r="1.45"/><circle cx="500.0" cy="168.8" r="1.45"/><circle cx="501.2" cy="177.5" r="1.45"/><circle cx="508.8" cy="176.2" r="1.45"/><circle cx="515.0" cy="166.2" r="1.45"/><circle cx="517.5" cy="168.8" r="1.45"/><circle cx="501.2" cy="185.0" r="1.45"/><circle cx="502.5" cy="190.0" r="1.45"/><circle cx="502.5" cy="196.2" r="1.45"/><circle cx="502.5" cy="205.0" r="1.45"/><circle cx="503.8" cy="216.2" r="1.45"/><circle cx="507.5" cy="226.2" r="1.45"/><circle cx="507.5" cy="202.0" r="1.45"/><circle cx="505.0" cy="245.0" r="1.45"/><circle cx="506.2" cy="255.0" r="1.45"/><circle cx="505.0" cy="261.2" r="1.45"/><circle cx="472.5" cy="212.5" r="1.45"/><circle cx="473.8" cy="217.5" r="1.45"/><circle cx="475.0" cy="225.0" r="1.45"/><circle cx="476.2" cy="222.5" r="1.45"/><circle cx="477.5" cy="221.2" r="1.45"/><circle cx="473.8" cy="231.2" r="1.45"/><circle cx="475.0" cy="237.5" r="1.45"/><circle cx="473.8" cy="242.5" r="1.45"/><circle cx="472.5" cy="245.0" r="1.45"/><circle cx="478.8" cy="211.2" r="1.45"/><circle cx="471.2" cy="197.5" r="1.45"/><circle cx="478.8" cy="196.2" r="1.45"/><circle cx="455.0" cy="197.5" r="1.45"/><circle cx="456.2" cy="205.0" r="1.45"/><circle cx="535.0" cy="176.2" r="1.45"/><circle cx="537.5" cy="175.0" r="1.45"/><circle cx="538.8" cy="173.8" r="1.45"/><circle cx="540.0" cy="177.5" r="1.45"/><circle cx="536.2" cy="181.2" r="1.45"/><circle cx="542.5" cy="182.5" r="1.45"/><circle cx="545.0" cy="180.0" r="1.45"/><circle cx="547.5" cy="175.0" r="1.45"/><circle cx="546.2" cy="171.2" r="1.45"/><circle cx="548.8" cy="180.0" r="1.45"/><circle cx="546.2" cy="187.5" r="1.45"/><circle cx="542.5" cy="190.0" r="1.45"/><circle cx="543.8" cy="193.8" r="1.45"/><circle cx="548.8" cy="187.5" r="1.45"/><circle cx="551.2" cy="197.5" r="1.45"/><circle cx="550.0" cy="211.2" r="1.45"/><circle cx="551.2" cy="218.8" r="1.45"/><circle cx="552.5" cy="223.8" r="1.45"/><circle cx="552.5" cy="227.5" r="1.45"/><circle cx="505.0" cy="262.0" r="1.45"/><circle cx="505.5" cy="280.5" r="1.45"/><circle cx="506.8" cy="284.5" r="1.45"/><circle cx="505.8" cy="298.2" r="1.45"/><circle cx="506.2" cy="309.2" r="1.45"/><circle cx="506.2" cy="317.5" r="1.45"/><circle cx="555.0" cy="164.5" r="1.45"/><circle cx="556.2" cy="166.2" r="1.45"/><circle cx="557.5" cy="168.8" r="1.45"/><circle cx="570.0" cy="168.8" r="1.45"/><circle cx="577.5" cy="115.5" r="1.45"/><circle cx="578.0" cy="118.8" r="1.45"/><circle cx="576.2" cy="125.5" r="1.45"/><circle cx="575.0" cy="129.5" r="1.45"/><circle cx="574.5" cy="132.0" r="1.45"/><circle cx="580.0" cy="124.5" r="1.45"/><circle cx="580.5" cy="131.2" r="1.45"/><circle cx="573.8" cy="137.0" r="1.45"/><circle cx="573.0" cy="142.5" r="1.45"/><circle cx="572.0" cy="147.5" r="1.45"/><circle cx="571.2" cy="150.0" r="1.45"/><circle cx="570.5" cy="155.0" r="1.45"/><circle cx="570.0" cy="160.0" r="1.45"/><circle cx="581.2" cy="143.0" r="1.45"/><circle cx="582.5" cy="155.0" r="1.45"/><circle cx="583.8" cy="167.5" r="1.45"/><circle cx="590.0" cy="106.2" r="1.45"/><circle cx="589.5" cy="110.5" r="1.45"/><circle cx="590.5" cy="111.2" r="1.45"/><circle cx="588.8" cy="119.5" r="1.45"/><circle cx="591.2" cy="120.0" r="1.45"/><circle cx="587.5" cy="128.8" r="1.45"/><circle cx="587.0" cy="137.5" r="1.45"/><circle cx="586.2" cy="149.5" r="1.45"/><circle cx="587.0" cy="159.5" r="1.45"/><circle cx="591.2" cy="135.5" r="1.45"/><circle cx="598.8" cy="131.2" r="1.45"/><circle cx="600.0" cy="133.8" r="1.45"/><circle cx="601.2" cy="136.2" r="1.45"/><circle cx="598.8" cy="137.5" r="1.45"/><circle cx="602.5" cy="138.8" r="1.45"/><circle cx="597.5" cy="143.8" r="1.45"/><circle cx="593.0" cy="146.2" r="1.45"/><circle cx="596.2" cy="151.2" r="1.45"/><circle cx="594.5" cy="155.0" r="1.45"/><circle cx="596.2" cy="158.8" r="1.45"/><circle cx="593.8" cy="162.5" r="1.45"/><circle cx="595.0" cy="166.2" r="1.45"/><circle cx="602.5" cy="143.8" r="1.45"/><circle cx="603.8" cy="151.2" r="1.45"/><circle cx="605.5" cy="147.5" r="1.45"/><circle cx="606.2" cy="152.5" r="1.45"/><circle cx="603.8" cy="158.8" r="1.45"/><circle cx="607.5" cy="163.8" r="1.45"/><circle cx="648.8" cy="166.2" r="1.45"/><circle cx="555.0" cy="167.5" r="1.45"/><circle cx="556.2" cy="170.0" r="1.45"/><circle cx="558.8" cy="166.2" r="1.45"/><circle cx="560.0" cy="176.2" r="1.45"/><circle cx="555.0" cy="180.0" r="1.45"/><circle cx="565.0" cy="171.2" r="1.45"/><circle cx="566.2" cy="173.8" r="1.45"/><circle cx="567.5" cy="175.0" r="1.45"/><circle cx="568.8" cy="172.5" r="1.45"/><circle cx="570.0" cy="168.8" r="1.45"/><circle cx="563.8" cy="178.8" r="1.45"/><circle cx="567.5" cy="178.8" r="1.45"/><circle cx="562.5" cy="183.8" r="1.45"/><circle cx="561.2" cy="193.8" r="1.45"/><circle cx="562.5" cy="196.2" r="1.45"/><circle cx="561.2" cy="198.8" r="1.45"/><circle cx="555.0" cy="195.0" r="1.45"/><circle cx="551.2" cy="198.8" r="1.45"/><circle cx="550.0" cy="212.5" r="1.45"/><circle cx="553.8" cy="212.5" r="1.45"/><circle cx="552.5" cy="220.0" r="1.45"/><circle cx="553.8" cy="223.8" r="1.45"/><circle cx="553.0" cy="226.2" r="1.45"/><circle cx="552.0" cy="227.5" r="1.45"/><circle cx="582.5" cy="167.5" r="1.45"/><circle cx="585.0" cy="171.2" r="1.45"/><circle cx="583.8" cy="176.2" r="1.45"/><circle cx="585.0" cy="180.0" r="1.45"/><circle cx="583.8" cy="182.5" r="1.45"/><circle cx="595.0" cy="167.5" r="1.45"/><circle cx="596.2" cy="170.0" r="1.45"/><circle cx="616.2" cy="172.5" r="1.45"/><circle cx="615.0" cy="177.5" r="1.45"/><circle cx="608.8" cy="205.0" r="1.45"/><circle cx="613.8" cy="203.8" r="1.45"/><circle cx="617.5" cy="201.2" r="1.45"/><circle cx="613.8" cy="218.8" r="1.45"/><circle cx="617.5" cy="216.2" r="1.45"/><circle cx="608.8" cy="222.5" r="1.45"/><circle cx="608.8" cy="237.5" r="1.45"/><circle cx="613.8" cy="238.8" r="1.45"/><circle cx="618.8" cy="236.2" r="1.45"/><circle cx="610.0" cy="253.8" r="1.45"/><circle cx="613.8" cy="258.8" r="1.45"/><circle cx="618.8" cy="256.2" r="1.45"/><circle cx="611.2" cy="263.8" r="1.45"/><circle cx="627.5" cy="195.0" r="1.45"/><circle cx="630.0" cy="198.8" r="1.45"/><circle cx="628.8" cy="205.0" r="1.45"/><circle cx="631.2" cy="202.5" r="1.45"/><circle cx="633.8" cy="196.2" r="1.45"/><circle cx="635.0" cy="192.5" r="1.45"/><circle cx="636.2" cy="195.0" r="1.45"/><circle cx="635.0" cy="185.0" r="1.45"/><circle cx="633.8" cy="201.2" r="1.45"/><circle cx="636.2" cy="205.0" r="1.45"/><circle cx="637.5" cy="208.8" r="1.45"/><circle cx="638.8" cy="211.2" r="1.45"/><circle cx="640.0" cy="213.8" r="1.45"/><circle cx="636.2" cy="213.8" r="1.45"/><circle cx="641.2" cy="216.2" r="1.45"/><circle cx="645.0" cy="213.8" r="1.45"/><circle cx="632.5" cy="212.5" r="1.45"/><circle cx="628.8" cy="215.0" r="1.45"/><circle cx="627.5" cy="218.8" r="1.45"/><circle cx="630.0" cy="222.5" r="1.45"/><circle cx="631.2" cy="227.5" r="1.45"/><circle cx="632.5" cy="231.2" r="1.45"/><circle cx="630.0" cy="238.8" r="1.45"/><circle cx="626.2" cy="245.0" r="1.45"/><circle cx="632.5" cy="247.5" r="1.45"/><circle cx="631.2" cy="253.8" r="1.45"/><circle cx="641.2" cy="228.8" r="1.45"/><circle cx="643.8" cy="231.2" r="1.45"/><circle cx="642.5" cy="236.2" r="1.45"/><circle cx="643.8" cy="240.0" r="1.45"/><circle cx="643.0" cy="242.5" r="1.45"/><circle cx="644.5" cy="243.8" r="1.45"/><circle cx="646.2" cy="183.8" r="1.45"/><circle cx="645.0" cy="197.5" r="1.45"/><circle cx="610.0" cy="263.8" r="1.45"/><circle cx="609.5" cy="267.5" r="1.45"/><circle cx="611.2" cy="271.2" r="1.45"/><circle cx="612.0" cy="280.0" r="1.45"/><circle cx="622.5" cy="276.2" r="1.45"/><circle cx="621.2" cy="280.0" r="1.45"/><circle cx="623.8" cy="283.8" r="1.45"/><circle cx="625.0" cy="286.2" r="1.45"/><circle cx="620.0" cy="288.8" r="1.45"/><circle cx="622.5" cy="292.5" r="1.45"/><circle cx="621.2" cy="297.5" r="1.45"/><circle cx="623.8" cy="301.2" r="1.45"/><circle cx="620.0" cy="305.0" r="1.45"/><circle cx="622.5" cy="307.5" r="1.45"/><circle cx="621.2" cy="312.5" r="1.45"/><circle cx="623.8" cy="313.8" r="1.45"/><circle cx="622.5" cy="321.2" r="1.45"/><circle cx="623.8" cy="326.2" r="1.45"/><circle cx="625.0" cy="332.5" r="1.45"/><circle cx="623.8" cy="341.2" r="1.45"/><circle cx="624.2" cy="345.0" r="1.45"/><circle cx="623.8" cy="347.5" r="1.45"/><circle cx="625.0" cy="266.2" r="1.45"/><circle cx="621.2" cy="270.0" r="1.45"/><circle cx="685.5" cy="71.2" r="1.45"/><circle cx="689.2" cy="75.5" r="1.45"/><circle cx="685.0" cy="81.2" r="1.45"/><circle cx="690.0" cy="89.5" r="1.45"/><circle cx="690.5" cy="95.0" r="1.45"/><circle cx="684.2" cy="99.5" r="1.45"/><circle cx="691.0" cy="101.2" r="1.45"/><circle cx="696.8" cy="105.0" r="1.45"/><circle cx="683.0" cy="115.0" r="1.45"/><circle cx="691.8" cy="117.5" r="1.45"/><circle cx="695.5" cy="117.5" r="1.45"/><circle cx="698.0" cy="84.5" r="1.45"/><circle cx="663.5" cy="101.2" r="1.45"/><circle cx="664.2" cy="105.5" r="1.45"/><circle cx="662.5" cy="113.8" r="1.45"/><circle cx="665.5" cy="115.5" r="1.45"/><circle cx="661.8" cy="128.0" r="1.45"/><circle cx="666.8" cy="127.5" r="1.45"/><circle cx="660.5" cy="139.5" r="1.45"/><circle cx="668.0" cy="139.5" r="1.45"/><circle cx="659.2" cy="149.5" r="1.45"/><circle cx="668.5" cy="149.5" r="1.45"/><circle cx="670.5" cy="152.5" r="1.45"/><circle cx="671.0" cy="156.2" r="1.45"/><circle cx="671.8" cy="151.2" r="1.45"/><circle cx="673.0" cy="145.0" r="1.45"/><circle cx="675.5" cy="127.5" r="1.45"/><circle cx="676.0" cy="129.5" r="1.45"/><circle cx="675.0" cy="133.8" r="1.45"/><circle cx="678.0" cy="143.0" r="1.45"/><circle cx="681.8" cy="136.2" r="1.45"/><circle cx="680.5" cy="146.2" r="1.45"/><circle cx="679.2" cy="150.0" r="1.45"/><circle cx="681.0" cy="152.5" r="1.45"/><circle cx="680.0" cy="157.5" r="1.45"/><circle cx="693.0" cy="132.5" r="1.45"/><circle cx="694.2" cy="134.5" r="1.45"/><circle cx="693.5" cy="141.2" r="1.45"/><circle cx="709.2" cy="71.2" r="1.45"/><circle cx="710.0" cy="80.5" r="1.45"/><circle cx="710.5" cy="92.0" r="1.45"/><circle cx="715.5" cy="85.5" r="1.45"/><circle cx="716.8" cy="84.5" r="1.45"/><circle cx="715.0" cy="92.5" r="1.45"/><circle cx="718.0" cy="93.0" r="1.45"/><circle cx="711.0" cy="101.2" r="1.45"/><circle cx="714.2" cy="101.2" r="1.45"/><circle cx="712.5" cy="108.8" r="1.45"/><circle cx="713.5" cy="108.0" r="1.45"/><circle cx="719.2" cy="112.0" r="1.45"/><circle cx="724.2" cy="110.5" r="1.45"/><circle cx="725.0" cy="80.5" r="1.45"/><circle cx="727.5" cy="71.2" r="1.45"/><circle cx="728.5" cy="73.8" r="1.45"/><circle cx="728.0" cy="77.5" r="1.45"/><circle cx="730.0" cy="81.2" r="1.45"/><circle cx="733.0" cy="86.2" r="1.45"/><circle cx="734.2" cy="85.0" r="1.45"/><circle cx="731.8" cy="90.0" r="1.45"/><circle cx="730.5" cy="91.2" r="1.45"/><circle cx="734.2" cy="99.5" r="1.45"/><circle cx="735.0" cy="116.2" r="1.45"/><circle cx="735.5" cy="132.5" r="1.45"/><circle cx="736.8" cy="134.5" r="1.45"/><circle cx="738.0" cy="137.5" r="1.45"/><circle cx="738.5" cy="130.0" r="1.45"/><circle cx="740.0" cy="127.5" r="1.45"/><circle cx="740.5" cy="136.2" r="1.45"/><circle cx="741.8" cy="136.2" r="1.45"/><circle cx="735.5" cy="139.5" r="1.45"/><circle cx="720.5" cy="137.5" r="1.45"/><circle cx="723.0" cy="138.0" r="1.45"/><circle cx="721.8" cy="156.2" r="1.45"/><circle cx="722.5" cy="157.5" r="1.45"/><circle cx="721.8" cy="162.5" r="1.45"/><circle cx="722.5" cy="164.5" r="1.45"/><circle cx="741.8" cy="159.5" r="1.45"/><circle cx="649.2" cy="166.2" r="1.45"/><circle cx="658.0" cy="169.5" r="1.45"/><circle cx="651.8" cy="177.5" r="1.45"/><circle cx="653.0" cy="190.0" r="1.45"/><circle cx="658.0" cy="198.8" r="1.45"/><circle cx="653.5" cy="205.5" r="1.45"/><circle cx="654.2" cy="225.0" r="1.45"/><circle cx="657.5" cy="231.2" r="1.45"/><circle cx="655.0" cy="243.8" r="1.45"/><circle cx="656.8" cy="253.8" r="1.45"/><circle cx="655.5" cy="263.8" r="1.45"/><circle cx="721.8" cy="165.0" r="1.45"/><circle cx="742.5" cy="185.5" r="1.45"/><circle cx="743.0" cy="215.0" r="1.45"/><circle cx="743.5" cy="236.2" r="1.45"/><circle cx="655.0" cy="264.5" r="1.45"/><circle cx="655.5" cy="268.8" r="1.45"/><circle cx="655.0" cy="276.2" r="1.45"/><circle cx="656.2" cy="277.0" r="1.45"/><circle cx="744.2" cy="314.2" r="1.45"/><circle cx="744.2" cy="344.5" r="1.45"/><circle cx="334.4" cy="330.5" r="1.45"/><circle cx="335.0" cy="333.5" r="1.45"/><circle cx="335.6" cy="336.5" r="1.45"/><circle cx="336.5" cy="338.6" r="1.45"/><circle cx="337.4" cy="341.0" r="1.45"/><circle cx="338.0" cy="343.4" r="1.45"/><circle cx="338.6" cy="345.5" r="1.45"/><circle cx="339.5" cy="342.5" r="1.45"/><circle cx="340.4" cy="339.5" r="1.45"/><circle cx="341.0" cy="336.5" r="1.45"/><circle cx="341.6" cy="333.5" r="1.45"/><circle cx="349.4" cy="330.5" r="1.45"/><circle cx="350.0" cy="333.5" r="1.45"/><circle cx="350.6" cy="335.6" r="1.45"/><circle cx="351.5" cy="338.0" r="1.45"/><circle cx="352.4" cy="340.4" r="1.45"/><circle cx="353.6" cy="341.6" r="1.45"/><circle cx="354.5" cy="339.5" r="1.45"/><circle cx="355.4" cy="338.0" r="1.45"/><circle cx="356.0" cy="335.6" r="1.45"/><circle cx="357.5" cy="333.5" r="1.45"/><circle cx="358.4" cy="331.4" r="1.45"/><circle cx="359.0" cy="329.0" r="1.45"/><circle cx="359.6" cy="326.0" r="1.45"/><circle cx="360.5" cy="323.0" r="1.45"/><circle cx="414.5" cy="237.5" r="1.45"/><circle cx="416.0" cy="239.0" r="1.45"/><circle cx="417.5" cy="240.5" r="1.45"/><circle cx="415.4" cy="243.5" r="1.45"/><circle cx="416.6" cy="246.5" r="1.45"/><circle cx="418.4" cy="236.0" r="1.45"/><circle cx="419.0" cy="242.0" r="1.45"/><circle cx="399.5" cy="305.0" r="1.45"/><circle cx="401.0" cy="309.5" r="1.45"/><circle cx="401.6" cy="314.0" r="1.45"/><circle cx="400.4" cy="317.0" r="1.45"/><circle cx="743.8" cy="277.0" r="1.45"/></g><polyline points="62.0,153.3 108.6,153.3 108.6,174.7 221.2,174.7 221.2,179.3 331.0,179.3 331.0,108.6 397.2,108.6 397.2,271.8 419.3,271.8 419.3,192.0 465.6,192.0 465.6,187.3 618.5,187.3 618.5,173.5 654.5,173.5 654.5,121.3 743.8,121.3" fill="none" stroke="#c94a48" stroke-width="2.1" stroke-linejoin="miter"/><polyline points="61.5,314.9 65.9,316.3 70.3,315.9 72.9,311.9 74.6,309.3 76.4,315.4 78.7,316.3 81.6,305.8 85.1,290.9 86.9,290.0 88.6,293.5 91.3,284.8 93.9,279.5 95.6,279.5 98.3,283.0 100.0,281.3 102.6,286.5 105.3,277.8 108.8,268.1 112.3,267.5 113.8,268.9 115.5,262.8 117.3,257.2 119.9,256.3 123.4,255.8 126.0,258.4 127.8,254.9 129.5,255.8 131.3,252.3 133.0,250.9 135.6,243.5 138.3,248.8 140.0,247.9 141.8,243.5 144.4,236.5 146.1,238.3 147.9,235.6 149.6,236.5 151.4,233.0 154.9,233.5 158.4,232.1 160.1,233.4 164.5,235.6 166.3,237.4 168.0,235.6 170.6,226.7 173.3,228.4 175.9,228.8 177.6,227.0 180.3,225.6 182.9,221.8 185.5,223.9 188.1,224.4 190.8,222.6 193.4,223.9 196.0,224.4 198.6,222.6 201.3,220.0 203.9,215.6 205.6,216.5 207.4,214.8 210.0,213.9 212.6,212.1 214.4,207.8 216.1,206.9 217.9,209.5 219.6,213.0 221.4,215.1 224.9,214.8 227.6,215.6 230.3,217.9 232.9,217.4 235.5,215.6 238.1,212.1 240.8,209.5 243.4,208.6 246.0,206.9 248.6,202.5 251.3,199.0 253.9,194.6 256.5,189.4 258.3,192.0 260.9,186.8 263.5,184.1 266.1,181.5 267.9,178.9 269.6,174.5 271.4,171.0 274.0,170.1 276.6,170.1 279.3,169.3 281.0,168.4 282.8,165.8 285.5,166.4 288.1,162.5 290.4,156.9 292.2,157.6 294.3,152.0 296.0,149.9 298.1,152.0 300.4,152.9 303.0,150.6 305.6,149.9 308.3,146.4 310.0,143.3 311.8,144.1 314.4,141.5 317.0,140.6 320.5,139.4 324.0,137.7 326.6,136.3 331.0,136.3 340.0,136.6 348.8,136.3 354.0,135.8 361.0,136.1 364.5,135.4 368.0,136.1 370.6,136.6 373.3,134.9 376.8,130.5 380.2,126.1 382.9,122.1 386.4,120.9 388.1,117.4 389.9,111.3 391.6,105.1 393.4,99.9 395.1,97.3 397.6,97.4 400.2,100.2 402.0,105.5 404.1,115.1 406.4,119.5 408.1,121.2 409.9,122.1 411.6,125.6 414.2,131.8 416.9,136.1 419.5,141.9 422.1,145.8 424.8,150.1 428.2,154.5 431.8,157.1 435.2,154.5 437.9,151.9 439.4,156.6 442.0,163.6 444.6,168.9 447.2,171.5 449.9,172.4 452.5,175.0 455.1,180.2 457.8,184.6 461.2,189.0 463.9,190.8 466.5,192.2 470.0,192.5 472.6,196.0 475.2,195.1 477.9,199.5 480.5,202.1 482.2,201.2 484.9,207.4 487.6,210.8 490.2,215.1 492.9,219.5 495.5,221.2 498.1,224.8 500.8,229.1 503.4,232.6 506.0,233.8 508.6,234.4 511.2,232.1 513.0,235.2 514.8,239.6 517.4,241.4 520.0,244.0 522.6,245.8 525.2,246.1 527.9,246.6 530.5,249.2 533.1,251.3 535.8,250.1 538.4,250.7 541.0,250.1 543.6,253.6 546.1,256.9 549.6,261.2 552.2,264.4 555.8,266.5 558.4,268.2 561.9,268.6 564.5,267.4 567.1,270.0 569.8,272.6 572.4,272.6 575.0,275.6 577.6,278.8 580.2,280.1 583.8,276.1 586.4,278.8 589.0,283.1 590.8,281.9 592.5,284.0 593.4,281.9 596.0,284.0 597.1,284.8 599.4,289.1 601.1,287.4 603.8,283.0 607.2,277.8 610.8,275.1 614.2,272.5 618.6,270.4 623.0,269.9 626.5,271.1 629.1,272.1 630.9,274.2 632.6,281.2 634.4,289.1 636.1,292.6 637.9,297.0 640.1,300.5 641.9,297.0 644.0,301.4 646.6,304.9 649.2,307.5 651.3,315.0 652.5,319.5 654.8,322.5 658.5,325.5 661.5,328.8 666.0,330.8 670.5,333.3 675.0,336.0 679.5,337.8 684.0,339.8 688.5,342.3 691.5,343.5 696.0,343.5 700.5,344.2 705.0,345.4 709.0,346.0 715.0,345.7 719.5,346.8 724.0,347.8 728.5,347.8 733.0,347.8 737.5,348.7 741.2,350.2 744.2,350.2 744.2,357.2" fill="none" stroke="#0d1789" stroke-width="2.35" stroke-linejoin="round" stroke-linecap="round"/><g fill="#e0001b"><circle cx="61.8" cy="314.8" r="3.8"/><circle cx="108.8" cy="268.1" r="3.8"/><circle cx="221.4" cy="215.1" r="3.8"/><circle cx="331.0" cy="136.3" r="3.8"/><circle cx="397.3" cy="97.3" r="3.8"/><circle cx="419.5" cy="141.9" r="3.8"/><circle cx="466.5" cy="192.2" r="3.8"/><circle cx="618.6" cy="270.4" r="3.8"/><circle cx="654.8" cy="322.5" r="3.8"/><circle cx="744.2" cy="350.2" r="3.8"/></g><g font-family="Liberation Sans, sans-serif" font-size="12" fill="#595959"><text transform="translate(50.3,360.1) scale(0.93,1)" text-anchor="end">0</text><text x="760" y="360.1">0</text><text transform="translate(50.3,303.1) scale(0.93,1)" text-anchor="end">100</text><text x="760" y="303.1">1</text><text transform="translate(50.3,246.1) scale(0.93,1)" text-anchor="end">200</text><text x="760" y="246.1">2</text><text transform="translate(50.3,189.1) scale(0.93,1)" text-anchor="end">300</text><text x="760" y="189.1">3</text><text transform="translate(50.3,132.1) scale(0.93,1)" text-anchor="end">400</text><text x="760" y="132.1">4</text><text transform="translate(50.3,75.0) scale(0.93,1)" text-anchor="end">500</text><text x="760" y="75.0">5</text><text x="60.8" y="376.3" text-anchor="middle">0.0</text><text x="121.0" y="376.3" text-anchor="middle">1.0</text><text x="181.2" y="376.3" text-anchor="middle">2.0</text><text x="241.4" y="376.3" text-anchor="middle">3.0</text><text x="301.6" y="376.3" text-anchor="middle">4.0</text><text x="361.8" y="376.3" text-anchor="middle">5.0</text><text x="422.0" y="376.3" text-anchor="middle">6.0</text><text x="482.2" y="376.3" text-anchor="middle">7.0</text><text x="542.4" y="376.3" text-anchor="middle">8.0</text><text x="602.6" y="376.3" text-anchor="middle">9.0</text><text x="662.8" y="376.3" text-anchor="middle">10.0</text><text x="723.0" y="376.3" text-anchor="middle">11.0</text></g></svg>
<div class="yt">標　高</div>
<div class="t">再度公園 歩行距離･標高展開</div>
<div class="u"></div>
<div class="p">1/10</div>
<div class="s">赤線は区間歩行速度<span style="margin-left:-2.5px;letter-spacing:-1.3px">（</span><span style="letter-spacing:0.5px">右側目盛</span>）</div>
</body></html>
